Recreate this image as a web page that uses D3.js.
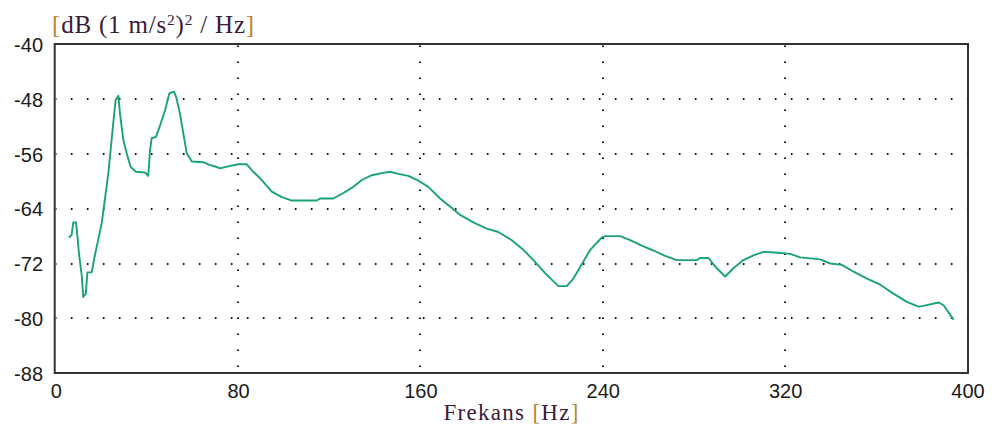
<!DOCTYPE html>
<html>
<head>
<meta charset="utf-8">
<script src="https://cdn.jsdelivr.net/npm/d3@7/dist/d3.min.js"></script>
<style>
  html, body { margin: 0; padding: 0; background: #ffffff; }
  svg { display: block; }
</style>
</head>
<body>
<svg id="chart" width="993" height="436"></svg>
<script>
// ---- data ----
const freqHz = [5.8, 7.0, 7.7, 8.9, 9.5, 10.2, 11.4, 12.1, 13.2, 13.9, 15.8, 17.2, 20.2, 23.1, 24.6, 25.6, 26.3, 27.5, 28.2, 29.7, 31.4, 32.9, 35.2, 39.2, 40.6, 41.4, 42.1, 44.0, 45.8, 48.0, 49.9, 51.9, 52.8, 54.5, 56.0, 57.5, 59.7, 64.8, 67.4, 70.7, 72.1, 75.7, 80.1, 83.8, 86.7, 90.4, 94.8, 99.2, 103.6, 114.5, 116.0, 121.8, 126.2, 130.6, 134.3, 138.7, 143.0, 146.7, 150.3, 154.7, 159.1, 163.5, 168.6, 173.8, 177.4, 183.2, 189.1, 194.2, 200.1, 204.5, 209.6, 214.7, 220.5, 224.2, 227.1, 230.1, 234.5, 239.6, 241.0, 247.6, 252.0, 257.1, 262.2, 267.4, 272.5, 281.3, 282.7, 286.4, 290.0, 293.7, 297.3, 301.7, 306.1, 310.5, 315.6, 322.2, 326.6, 335.4, 339.8, 344.9, 350.0, 355.9, 361.7, 367.5, 373.4, 378.5, 380.7, 387.3, 389.5, 393.9];
const levelDb = [-68.2, -67.8, -66.0, -66.0, -67.9, -70.5, -73.7, -76.9, -76.4, -73.3, -73.3, -70.8, -66.1, -58.8, -53.7, -50.3, -48.1, -47.5, -50.1, -54.0, -56.2, -57.9, -58.6, -58.7, -59.2, -55.4, -53.7, -53.5, -51.8, -49.6, -47.1, -46.9, -47.6, -50.1, -53.0, -55.9, -57.1, -57.2, -57.6, -57.9, -58.1, -57.8, -57.5, -57.5, -58.6, -59.8, -61.5, -62.3, -62.8, -62.8, -62.5, -62.5, -61.7, -60.8, -59.8, -59.1, -58.8, -58.6, -58.9, -59.2, -59.9, -60.8, -62.5, -63.9, -64.9, -66.0, -66.9, -67.4, -68.6, -69.8, -71.5, -73.4, -75.3, -75.3, -74.2, -72.5, -70.0, -68.2, -68.0, -68.0, -68.6, -69.4, -70.1, -70.9, -71.5, -71.5, -71.2, -71.2, -72.7, -73.9, -72.7, -71.5, -70.8, -70.3, -70.4, -70.6, -71.1, -71.4, -72.0, -72.2, -73.2, -74.2, -75.1, -76.4, -77.6, -78.3, -78.2, -77.7, -78.1, -80.2];
const xTicks = [0, 80, 160, 240, 320, 400];
const yTicks = [-40, -48, -56, -64, -72, -80, -88];
const xDomain = [0, 400];
const yDomain = [-88, -40];
const yTitleParts = [
  { t: "[", c: "bracket" }, { t: "dB (1 m/s", c: "text" }, { t: "2", c: "sup" },
  { t: ")", c: "text" }, { t: "2", c: "sup" }, { t: " / Hz", c: "text" }, { t: "]", c: "bracket" }
];
const xTitleParts = [ { t: "Frekans ", c: "text" }, { t: "[", c: "bracket" }, { t: "Hz", c: "text" }, { t: "]", c: "bracket" } ];

// ---- layout ----
const svg = d3.select("#chart");
const plotLeft = 55.7, plotRight = 967.5, plotTop = 44.5, plotBottom = 373;
const x = d3.scaleLinear().domain(xDomain).range([plotLeft, plotRight]);
const y = d3.scaleLinear().domain(yDomain).range([plotBottom, plotTop]);

const textColor = "#3a1a3a";
const bracketColor = "#b8862b";

// dotted grid
const grid = svg.append("g");
grid.selectAll("line.h").data(yTicks.filter(v => v !== yDomain[0] && v !== yDomain[1]))
  .enter().append("line")
  .attr("x1", plotLeft).attr("x2", plotRight)
  .attr("y1", d => Math.round(y(d))).attr("y2", d => Math.round(y(d)))
  .attr("stroke", "#111").attr("stroke-width", 2)
  .attr("stroke-dasharray", "1.6,14.4").attr("stroke-dashoffset", 0.8);
grid.selectAll("line.v").data(xTicks.filter(v => v !== xDomain[0] && v !== xDomain[1]))
  .enter().append("line")
  .attr("y1", plotTop).attr("y2", plotBottom)
  .attr("x1", d => Math.round(x(d))).attr("x2", d => Math.round(x(d)))
  .attr("stroke", "#111").attr("stroke-width", 2)
  .attr("stroke-dasharray", "1.6,14.4").attr("stroke-dashoffset", -1.0);

// frame
svg.append("rect")
  .attr("x", plotLeft - 1).attr("y", plotTop - 0.5)
  .attr("width", plotRight - plotLeft + 1.5).attr("height", plotBottom - plotTop + 0.5)
  .attr("fill", "none").attr("stroke", "#333").attr("stroke-width", 2);

// axes labels via d3 axes (domain and ticks hidden)
const xAxis = d3.axisBottom(x).tickValues(xTicks).tickSize(0).tickPadding(0).tickFormat(d3.format("d"));
const gx = svg.append("g").attr("transform", `translate(0,${plotBottom})`).call(xAxis);
gx.select(".domain").remove();
gx.selectAll("text").attr("dy", null).attr("y", 25)
  .attr("font-family", "'Liberation Sans', Arial, sans-serif").attr("font-size", 20)
  .attr("fill", "#1a1a1a");

const yAxis = d3.axisLeft(y).tickValues(yTicks).tickSize(0).tickPadding(0).tickFormat(d => String(d));
const gy = svg.append("g").attr("transform", `translate(43,0)`).call(yAxis);
gy.select(".domain").remove();
gy.selectAll("text").attr("x", 0).attr("dy", "0.36em")
  .attr("font-family", "'Liberation Sans', Arial, sans-serif").attr("font-size", 20)
  .attr("fill", "#1a1a1a");

// titles
function addTitle(parts, xPos, yPos, size, anchor, spacing) {
  const t = svg.append("text").attr("x", xPos).attr("y", yPos)
    .attr("font-family", "'Liberation Serif', 'Times New Roman', serif")
    .attr("font-size", size).attr("text-anchor", anchor)
    .attr("letter-spacing", spacing);
  parts.forEach(p => {
    const s = t.append("tspan").text(p.t);
    if (p.c === "bracket") s.attr("fill", bracketColor);
    else if (p.c === "sup") s.attr("fill", textColor).attr("font-size", size * 0.62).attr("baseline-shift", "super");
    else s.attr("fill", textColor);
  });
  return t;
}
addTitle(yTitleParts, 52, 33, 25, "start", 0.8);
addTitle(xTitleParts, (plotLeft + plotRight) / 2, 420, 23, "middle", 1.3);

// data line
const pts = freqHz.map((f, i) => [f, levelDb[i]]);
const line = d3.line().x(d => x(d[0])).y(d => y(d[1])).curve(d3.curveLinear);
svg.append("path").datum(pts)
  .attr("d", line)
  .attr("fill", "none")
  .attr("stroke", "#1aa27a")
  .attr("stroke-width", 1.9)
  .attr("stroke-linejoin", "round");
</script>
</body>
</html>
